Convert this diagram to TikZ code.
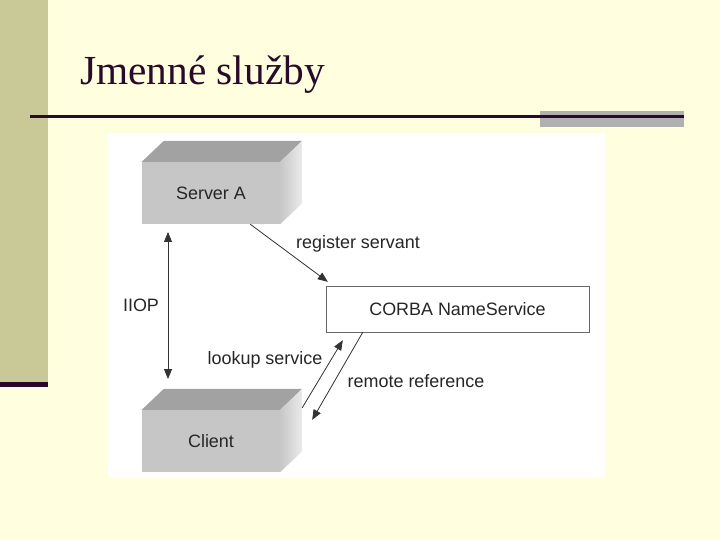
\documentclass[tikz,border=0pt]{standalone}
\usepackage{fontspec}
\setmainfont{Liberation Serif}
\setsansfont{Liberation Sans}
\usepackage{xcolor}
\usetikzlibrary{arrows.meta,positioning}
\definecolor{slidebg}{HTML}{FFFFE0}
\definecolor{sidebar}{HTML}{C9C997}
\definecolor{titleink}{HTML}{2A0A2A}
\definecolor{rulegray}{HTML}{B0B0B0}
\definecolor{boxfront}{HTML}{C6C6C6}
\definecolor{boxtop}{HTML}{A2A2A2}
\definecolor{lineink}{HTML}{333333}
\tikzset{
  x=1bp, y=-1bp,
  lbl/.style={font=\sffamily\fontsize{18}{21}\selectfont, text=black!85, inner sep=1pt},
  cube/.style={fill=boxfront, minimum width=138bp, minimum height=62bp, inner sep=0pt, font=\sffamily\fontsize{18}{21}\selectfont, text=black!85},
  nsbox/.style={draw=black!60, fill=white, minimum width=263bp, minimum height=46bp, inner sep=0pt, font=\sffamily\fontsize{18}{21}\selectfont, text=black!85},
  farr/.style={-{Triangle[length=10bp,width=8bp]}, lineink, line width=0.8pt},
  darr/.style={{Triangle[length=10bp,width=8bp]}-{Triangle[length=10bp,width=8bp]}, lineink, line width=0.8pt}
}
\newcommand{\cubefaces}[1]{%
  \fill[boxtop] (#1.north west) -- ([shift={(22,-21)}]#1.north west) -- ([shift={(22,-21)}]#1.north east) -- (#1.north east) -- cycle;
  \shade[left color=black!22, right color=black!8] (#1.north east) -- ([shift={(22,-21)}]#1.north east) -- ([shift={(22,-21)}]#1.south east) -- (#1.south east) -- cycle;
}
\begin{document}
\begin{tikzpicture}
\useasboundingbox (0,0) rectangle (720,540);
\fill[slidebg] (0,0) rectangle (720,540);
\fill[sidebar] (0,0) rectangle (48,382);
\fill[titleink] (0,382) rectangle (48,387);
\node[anchor=base west, font=\fontsize{41.5}{45}\selectfont, text=titleink, inner sep=0pt] (title) at (80,85) {Jmenné služby};
\fill[rulegray] (540,111) rectangle (684,127);
\fill[titleink] (30,115.5) rectangle (684,118.5);
\fill[white] (108,133) rectangle (605,478);
% boxes
\node[cube] (sa) at (211,193) {Server A};
\cubefaces{sa}
\node[cube] (cl) at (211,441) {Client};
\cubefaces{cl}
\node[nsbox] (ns) at (457.5,309) {CORBA NameService};
% connectors
\coordinate (iiopT) at (168,232);
\coordinate (iiopB) at (168,379);
\draw[darr] (iiopT) -- (iiopB);
\node[lbl] (iiop) at (141,305) {IIOP};
\draw[farr] ([xshift=-30bp]sa.south east) -- ([shift={(2,-4)}]ns.north west);
\node[lbl] (reg) at (358,244) {register servant};
\draw[farr] ([shift={(22,-2)}]cl.north east) -- ([shift={(17,8)}]ns.south west);
\node[lbl] (look) at (265,360) {lookup service};
\draw[farr] ([shift={(37,0)}]ns.south west) -- ([shift={(32,10)}]cl.north east);
\node[lbl] (rem) at (416,381) {remote reference};
\end{tikzpicture}
\end{document}
